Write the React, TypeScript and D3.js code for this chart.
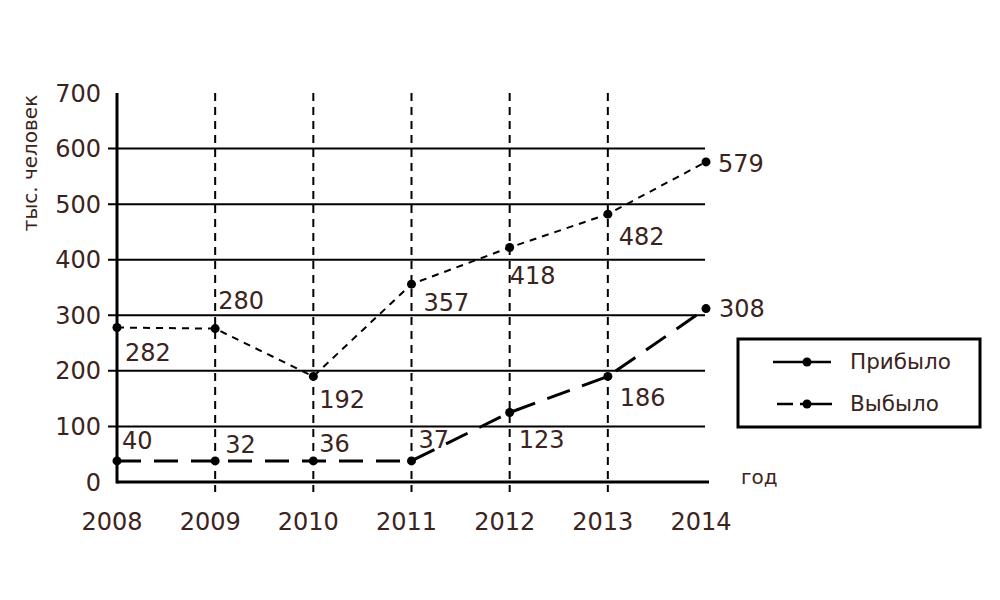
import { useEffect, useRef } from "react";
import * as d3 from "d3";

const years = [2008, 2009, 2010, 2011, 2012, 2013, 2014];
// plotted positions
const arrivedValues = [278, 276, 190, 356, 422, 482, 576];
const departedValues = [38, 38, 38, 38, 125, 190, 312];
// printed labels
const arrivedLabels = ["282", "280", "192", "357", "418", "482", "579"];
const departedLabels = ["40", "32", "36", "37", "123", "186", "308"];
const yTicks = [0, 100, 200, 300, 400, 500, 600, 700];
const legendItems = ["Прибыло", "Выбыло"];

// label offsets relative to each point
const arrivedOffsets: [number, number][] = [
  [8, 25], [3, -28], [6, 23], [12, 18], [0, 28], [11, 22], [12, 1],
];
const departedOffsets: [number, number][] = [
  [5, -21], [10, -17], [6, -18], [7, -22], [9, 27], [12, 21], [13, 0],
];

const INK = "#3b2420";
const FONT = "'DejaVu Sans', 'Noto Sans', sans-serif";

export default function App() {
  const svgRef = useRef<SVGSVGElement>(null);

  useEffect(() => {
    if (!svgRef.current) return;
    const svg = d3.select(svgRef.current);
    svg.selectAll("*").remove();

    const x = d3.scaleLinear().domain([2008, 2014]).range([117, 706]);
    const y = d3.scaleLinear().domain([0, 700]).range([482, 93]);

    const g = svg.append("g");

    // horizontal grid lines
    g.selectAll(".hgrid")
      .data(yTicks.filter(t => t > 0 && t < 700))
      .enter().append("line")
      .attr("x1", 108).attr("x2", 705)
      .attr("y1", d => y(d)).attr("y2", d => y(d))
      .attr("stroke", "#000").attr("stroke-width", 2);

    // vertical dashed lines
    g.selectAll(".vgrid")
      .data(years.slice(1, -1))
      .enter().append("line")
      .attr("x1", d => x(d)).attr("x2", d => x(d))
      .attr("y1", y(700)).attr("y2", 492)
      .attr("stroke", "#000").attr("stroke-width", 2)
      .attr("stroke-dasharray", "8 6");

    // axes
    g.append("line")
      .attr("x1", x(2008)).attr("x2", x(2008))
      .attr("y1", y(700)).attr("y2", y(0) + 1.5)
      .attr("stroke", "#000").attr("stroke-width", 3);
    g.append("line")
      .attr("x1", x(2008)).attr("x2", 709)
      .attr("y1", y(0)).attr("y2", y(0))
      .attr("stroke", "#000").attr("stroke-width", 3);

    // y tick labels
    g.selectAll(".ytick")
      .data(yTicks)
      .enter().append("text")
      .attr("x", 101).attr("y", d => y(d))
      .attr("dy", "0.36em")
      .attr("text-anchor", "end")
      .style("font-family", FONT).style("font-size", "24px")
      .style("fill", INK)
      .text(d => d);

    // x tick labels
    g.selectAll(".xtick")
      .data(years)
      .enter().append("text")
      .attr("x", d => x(d) - 5).attr("y", 521)
      .attr("dy", "0.36em")
      .attr("text-anchor", "middle")
      .style("font-family", FONT).style("font-size", "24px")
      .style("fill", INK)
      .text(d => d);

    // axis titles
    g.append("text")
      .attr("transform", `translate(37, 163) rotate(-90)`)
      .attr("text-anchor", "middle")
      .style("font-family", FONT).style("font-size", "20px")
      .style("fill", INK)
      .text("тыс. человек");
    g.append("text")
      .attr("x", 741).attr("y", 477)
      .attr("dy", "0.36em")
      .style("font-family", FONT).style("font-size", "20px")
      .style("fill", INK)
      .text("год");

    const line = d3.line<number>()
      .x((_, i) => x(years[i]))
      .y(d => y(d));

    const series = [
      { values: arrivedValues, labels: arrivedLabels, offsets: arrivedOffsets, dash: "7 6", width: 2 },
      { values: departedValues, labels: departedLabels, offsets: departedOffsets, dash: "24 13", width: 3 },
    ];

    series.forEach(s => {
      g.append("path")
        .attr("d", line(s.values) as string)
        .attr("fill", "none")
        .attr("stroke", "#000")
        .attr("stroke-width", s.width)
        .attr("stroke-dasharray", s.dash);

      g.selectAll(null)
        .data(s.values)
        .enter().append("circle")
        .attr("cx", (_, i) => x(years[i]))
        .attr("cy", d => y(d))
        .attr("r", 4.5)
        .attr("fill", "#000");

      g.selectAll(null)
        .data(s.values)
        .enter().append("text")
        .attr("x", (_, i) => x(years[i]) + s.offsets[i][0])
        .attr("y", (d, i) => y(d) + s.offsets[i][1])
        .attr("dy", "0.36em")
        .style("font-family", FONT).style("font-size", "24px")
        .style("fill", INK)
        .text((_, i) => s.labels[i]);
    });

    // legend
    const lg = g.append("g");
    lg.append("rect")
      .attr("x", 738).attr("y", 339)
      .attr("width", 242).attr("height", 88)
      .attr("fill", "#fff")
      .attr("stroke", "#000").attr("stroke-width", 3);

    legendItems.forEach((name, i) => {
      const ly = 362 + i * 42;
      lg.append("line")
        .attr("x1", i === 0 ? 773 : 777).attr("x2", i === 0 ? 831 : 832)
        .attr("y1", ly).attr("y2", ly)
        .attr("stroke", "#000").attr("stroke-width", 2.5)
        .attr("stroke-dasharray", i === 0 ? null : "16 7 40");
      lg.append("circle")
        .attr("cx", 807).attr("cy", ly).attr("r", 4.5).attr("fill", "#000");
      lg.append("text")
        .attr("x", 850).attr("y", ly - 1)
        .attr("dy", "0.36em")
        .style("font-family", FONT).style("font-size", "21.5px")
        .style("fill", INK)
        .text(name);
    });
  }, []);

  return (
    <svg
      ref={svgRef}
      width={1000}
      height={600}
      style={{ position: "absolute", left: 0, top: 0, background: "#fff" }}
    />
  );
}
